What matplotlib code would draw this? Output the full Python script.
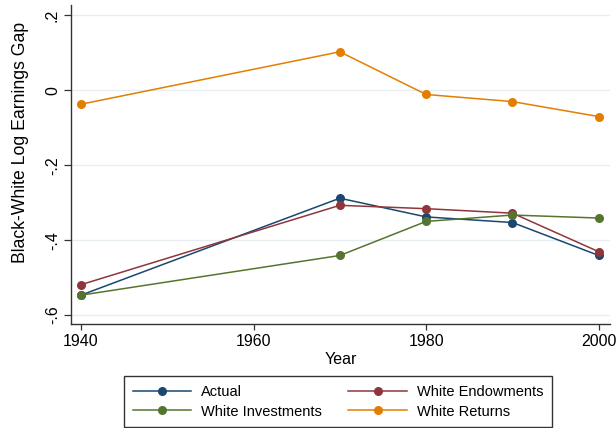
import matplotlib
matplotlib.use("Agg")
import matplotlib.pyplot as plt

plt.rcParams['font.family'] = ['Liberation Sans', 'DejaVu Sans']

years = [1940, 1970, 1980, 1990, 2000]
actual = [-0.547, -0.288, -0.338, -0.353, -0.441]
white_endowments = [-0.519, -0.307, -0.316, -0.328, -0.431]
white_investments = [-0.547, -0.441, -0.350, -0.333, -0.341]
white_returns = [-0.037, 0.103, -0.011, -0.030, -0.070]

series = [
  ('Actual', actual, '#1a476f'),
  ('White Endowments', white_endowments, '#90353b'),
  ('White Investments', white_investments, '#55752f'),
  ('White Returns', white_returns, '#e37e00'),
]

yticks = [0.2, 0, -0.2, -0.4, -0.6]
ytick_labels = ['.2', '0', '-.2', '-.4', '-.6']
xticks = [1940, 1960, 1980, 2000]

fig = plt.figure(figsize=(6.16, 4.28), dpi=100)
ax = fig.add_axes([71/616, 1 - 324/428, (610 - 71)/616, (324 - 5)/428])

lines = {}
for name, vals, color in series:
  ln, = ax.plot(years, vals, color=color, lw=1.1, marker='o', markersize=6.5,
                markeredgewidth=0, label=name, zorder=3)
  lines[name] = ln

ax.set_xlim(1938.85, 2001.3)
ax.set_ylim(-0.624, 0.228)
ax.set_xticks(xticks)
ax.set_xticklabels([str(x) for x in xticks], fontsize=11.5)
ax.set_yticks(yticks)
ax.set_yticklabels(ytick_labels, fontsize=11.5, rotation=90, va='center')
ax.grid(axis='y', color='#e6eef1', lw=1.0, zorder=0)
ax.set_axisbelow(True)

for side in ['top', 'right']:
  ax.spines[side].set_visible(False)
for side in ['left', 'bottom']:
  ax.spines[side].set_color('#333333')
  ax.spines[side].set_linewidth(1.0)
ax.tick_params(axis='y', length=5, width=0.9, color='#333333', pad=3)
ax.tick_params(axis='x', length=4.5, width=0.9, color='#333333', pad=3)

ax.set_xlabel('Year', fontsize=11.5, labelpad=2)
ax.set_ylabel('Black-White Log Earnings Gap', fontsize=12.7)
ax.yaxis.set_label_coords(-0.078, 0.57)

# legend filled row by row: Actual / Endowments on top, Investments / Returns below
order = ['Actual', 'White Investments', 'White Endowments', 'White Returns']
leg = fig.legend([lines[k] for k in order], order, ncol=2, loc='upper left',
                 bbox_to_anchor=(124/616, 1 - 376/428), fontsize=10.5,
                 frameon=True, fancybox=False, edgecolor='black',
                 handlelength=4.0, handletextpad=0.7, columnspacing=1.8,
                 borderpad=0.6, labelspacing=0.4, borderaxespad=0)
leg.get_frame().set_linewidth(1.0)

fig.savefig('out.png', dpi=100)
